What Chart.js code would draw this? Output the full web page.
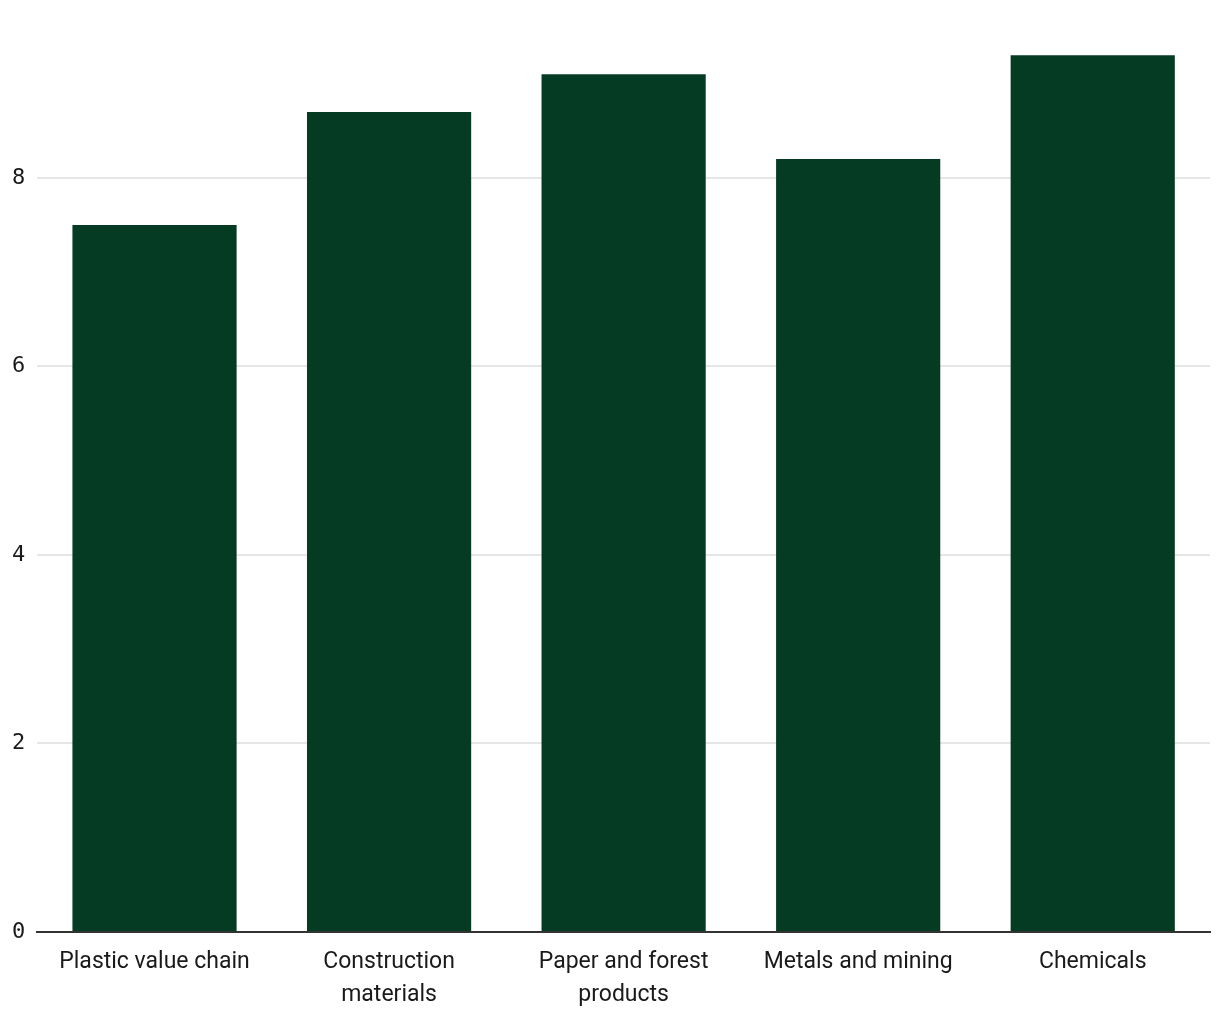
<!DOCTYPE html>
<html>
<head>
<meta charset="utf-8">
<script src="https://cdn.jsdelivr.net/npm/chart.js@4/dist/chart.umd.min.js"></script>
<style>
    body { margin: 0; background: #fff; }
    #wrap { width: 1220px; height: 1020px; }
</style>
</head>
<body>
<div id="wrap"><canvas id="barChart"></canvas></div>
<script>
// Chart data
const categories = [
    'Plastic value chain',
    ['Construction', 'materials'],
    ['Paper and forest', 'products'],
    'Metals and mining',
    'Chemicals'
];
const values = [7.5, 8.7, 9.1, 8.2, 9.3];
const yTicks = [0, 2, 4, 6, 8];

document.addEventListener('DOMContentLoaded', function() {
    initBarChart();
});

function initBarChart() {
    const ctx = document.getElementById('barChart');
    if (!ctx) return;

    const barChart = new Chart(ctx, {
        type: 'bar',
        data: {
            labels: categories,
            datasets: [{
                data: values,
                backgroundColor: '#063b23',
                borderWidth: 0,
                barPercentage: 0.7,
                categoryPercentage: 1.0
            }]
        },
        options: {
            responsive: true,
            maintainAspectRatio: false,
            animation: false,
            layout: {
                padding: { top: 0, right: 10, bottom: 0, left: 0 }
            },
            plugins: {
                legend: { display: false },
                tooltip: { enabled: false }
            },
            scales: {
                x: {
                    grid: { display: false, drawTicks: false },
                    border: { display: true, color: '#333333', width: 2 },
                    afterFit: function(scale) {
                        // keep the label band a fixed height so the axis sits at the same spot
                        scale.height = 88;
                    },
                    ticks: {
                        color: '#1a1a1a',
                        padding: 14,
                        maxRotation: 0,
                        autoSkip: false,
                        font: { family: 'Roboto, "Noto Sans", sans-serif', size: 23, lineHeight: 1.435 }
                    }
                },
                y: {
                    min: 0,
                    max: 9.62,
                    afterBuildTicks: function(axis) {
                        axis.ticks = yTicks.map(v => ({ value: v }));
                    },
                    grid: {
                        color: '#e6e6e6',
                        lineWidth: 2,
                        drawTicks: false
                    },
                    border: { display: false },
                    ticks: {
                        color: '#1a1a1a',
                        padding: 12,
                        font: { family: '"DejaVu Sans Mono", monospace', size: 22 }
                    }
                }
            }
        }
    });
}
</script>
</body>
</html>
